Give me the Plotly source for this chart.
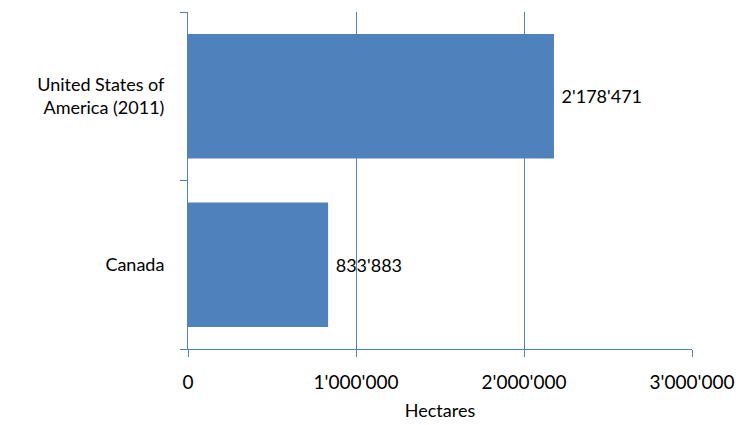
import plotly.graph_objects as go

countries = ["Canada", "United States of<br>America (2011)"]
hectares = [833883, 2178471]
x_ticks = [0, 1000000, 2000000, 3000000]

line_blue = "#4F81BD"
bar_blue = "#4F81BD"

fig = go.Figure(
    go.Bar(
        x=hectares,
        y=countries,
        orientation="h",
        marker={"color": bar_blue, "line": {"width": 0}},
        texttemplate=" %{x:,d}",
        textposition="outside",
        textfont={"family": "Lato", "size": 18, "color": "#000000"},
        cliponaxis=False,
    )
)

fig.update_layout(
    width=744,
    height=425,
    paper_bgcolor="#ffffff",
    plot_bgcolor="#ffffff",
    separators=".'",
    bargap=0.26,
    showlegend=False,
    font={"family": "Lato", "size": 18, "color": "#000000"},
    margin={"l": 180, "r": 60, "t": 4, "b": 84},
)

fig.update_xaxes(
    range=[0, 3000000],
    tickvals=x_ticks,
    tickformat=",d",
    tickfont={"family": "Lato", "size": 19, "color": "#000000"},
    showgrid=True,
    gridcolor=line_blue,
    gridwidth=1,
    zeroline=False,
    showline=True,
    linecolor=line_blue,
    ticks="outside",
    tickcolor=line_blue,
    ticklen=7,
    ticklabelstandoff=9,
    automargin=False,
    title={
        "text": "Hectares",
        "standoff": 12,
        "font": {"family": "Lato", "size": 18, "color": "#000000"},
    },
)

fig.update_yaxes(
    showgrid=False,
    zeroline=False,
    showline=True,
    linecolor=line_blue,
    ticks="outside",
    tickson="boundaries",
    tickcolor=line_blue,
    ticklen=7,
    ticklabelstandoff=19,
    automargin=False,
)

fig.write_html("out.html")
